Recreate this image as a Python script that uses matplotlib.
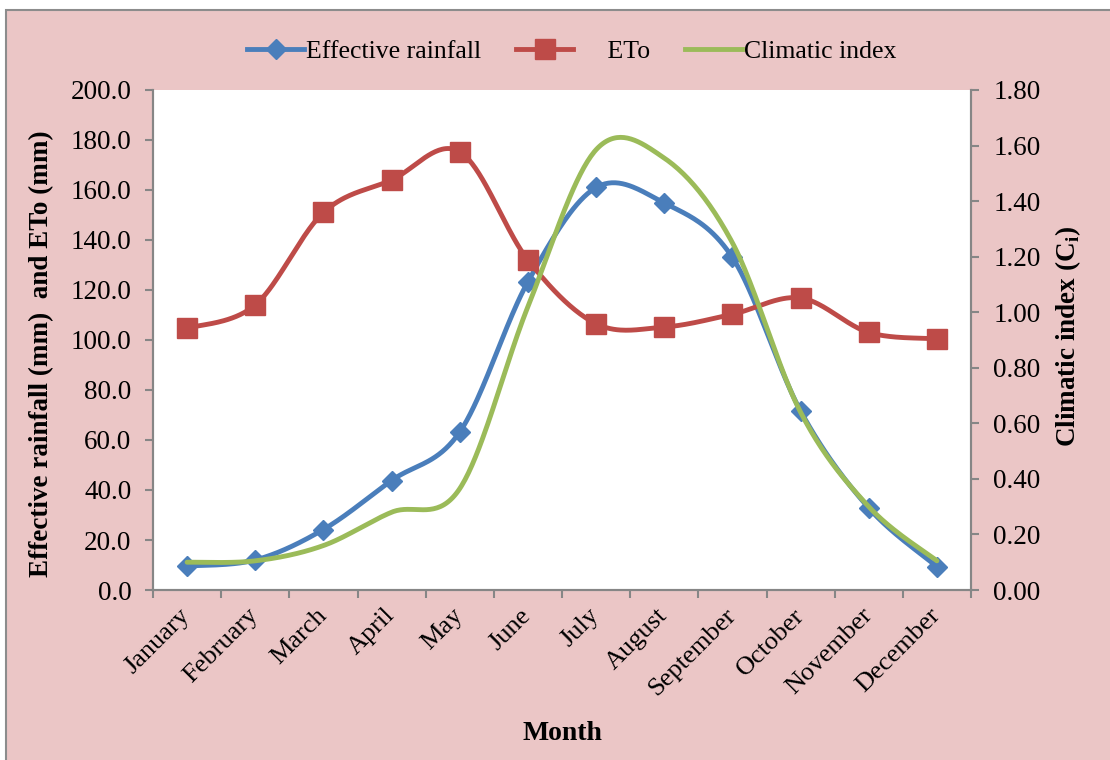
import numpy as np
import matplotlib
matplotlib.use('Agg')
import matplotlib.pyplot as plt
from matplotlib.patches import Rectangle
from matplotlib.lines import Line2D
from matplotlib.ticker import FormatStrFormatter, FixedLocator

plt.rcParams['font.family'] = ['Liberation Serif', 'DejaVu Serif']
plt.rcParams['mathtext.fontset'] = 'custom'
plt.rcParams['mathtext.rm'] = 'Liberation Serif'
plt.rcParams['mathtext.bf'] = 'Liberation Serif:bold'

months = ['January', 'February', 'March', 'April', 'May', 'June', 'July',
          'August', 'September', 'October', 'November', 'December']
eff_rain = [9.6, 12.0, 24.2, 43.8, 63.2, 123.3, 161.0, 154.8, 133.0, 71.6, 32.8, 9.4]
eto = [104.7, 114.0, 151.0, 164.0, 175.3, 132.0, 106.5, 105.2, 110.3, 116.8, 103.0, 100.5]
clim = [0.10, 0.105, 0.16, 0.28, 0.365, 1.02, 1.585, 1.555, 1.25, 0.64, 0.30, 0.105]

left_ticks = np.arange(0, 201, 20)
right_ticks = np.arange(0, 1.81, 0.2)

BLUE = '#4A7EBB'
RED = '#BE4B48'
GREEN = '#9BBB59'
PINK = '#EBC6C6'
GRAY = '#868686'


def smooth(vals, n=40):
    """Excel-style smoothed line (Catmull-Rom Bezier) through the points."""
    y = np.asarray(vals, float)
    x = np.arange(len(y), dtype=float)
    xs, ys = [], []
    t = np.linspace(0, 1, n)
    for i in range(len(y) - 1):
        i0 = max(i - 1, 0)
        i3 = min(i + 2, len(y) - 1)
        for arr, out in ((x, xs), (y, ys)):
            p0, p1, p2, p3 = arr[i0], arr[i], arr[i + 1], arr[i3]
            c1 = p1 + (p2 - p0) / 6.0
            c2 = p2 - (p3 - p1) / 6.0
            seg = ((1 - t) ** 3 * p1 + 3 * (1 - t) ** 2 * t * c1
                   + 3 * (1 - t) * t ** 2 * c2 + t ** 3 * p2)
            out.extend(seg if i == 0 else seg[1:])
    return np.array(xs), np.array(ys)


W, H = 1110, 760
fig = plt.figure(figsize=(W / 100, H / 100), dpi=100)
fig.patch.set_facecolor('white')
bg = Rectangle((6 / W, -0.05), 1.2, 0.05 + (1 - 10 / H), transform=fig.transFigure,
               facecolor=PINK, edgecolor='#8C8C8C', lw=1.5, zorder=-10)
fig.patches.append(bg)

ax = fig.add_axes([153 / W, 1 - 590 / H, 818 / W, 500 / H])
ax.set_facecolor('white')
ax2 = ax.twinx()

x = np.arange(len(months))
sx, sy = smooth(eff_rain)
ax.plot(sx, sy, color=BLUE, lw=3.5, solid_capstyle='round', zorder=3)
ax.plot(x, eff_rain, ls='none', marker='D', ms=10.5, color=BLUE, zorder=4)
sx, sy = smooth(eto)
ax.plot(sx, sy, color=RED, lw=3.5, solid_capstyle='round', zorder=5)
ax.plot(x, eto, ls='none', marker='s', ms=14.5, color=RED, zorder=6)
sx, sy = smooth(clim)
ax2.plot(sx, sy, color=GREEN, lw=3.5, solid_capstyle='round', zorder=3)

ax.set_xlim(-0.5, len(months) - 0.5)
ax.set_ylim(0, 200)
ax2.set_ylim(0, 1.8)

ax.yaxis.set_major_locator(FixedLocator(left_ticks))
ax.yaxis.set_major_formatter(FormatStrFormatter('%.1f'))
ax2.yaxis.set_major_locator(FixedLocator(right_ticks))
ax2.yaxis.set_major_formatter(FormatStrFormatter('%.2f'))

ax.set_xticks(x)
ax.set_xticklabels(months, rotation=45, ha='right', va='center', rotation_mode='anchor')
ax.set_xticks(np.arange(-0.5, len(months), 1.0), minor=True)
ax.tick_params(axis='x', which='major', length=0, pad=16, labelsize=19)
ax.tick_params(axis='x', which='minor', length=6, width=1.5, color=GRAY, direction='out')
ax.tick_params(axis='y', length=6, width=1.5, color=GRAY, direction='out', pad=9.5, labelsize=19.5)
ax2.tick_params(axis='y', length=6, width=1.5, color=GRAY, direction='out', pad=10, labelsize=19.5)

for a in (ax, ax2):
    a.spines['top'].set_visible(False)
    for s in ('left', 'right', 'bottom'):
        a.spines[s].set_color(GRAY)
        a.spines[s].set_linewidth(1.5)

fig.text(42 / W, 1 - 354 / H, 'Effective rainfall (mm)  and ETo (mm)', rotation=90,
         ha='center', va='center', fontsize=19.5, fontweight='bold')
fig.text(1068 / W, 1 - 336 / H, r'Climatic index (C$_\mathbf{i}$)', rotation=90,
         ha='center', va='center', fontsize=19.5, fontweight='bold')
fig.text(562 / W, 1 - 733 / H, 'Month', ha='center', va='center',
         fontsize=20, fontweight='bold')

handles = [
    Line2D([], [], color=BLUE, lw=3.5, marker='D', ms=10.5),
    Line2D([], [], color=RED, lw=3.5, marker='s', ms=14.5),
    Line2D([], [], color=GREEN, lw=3.5),
]
labels = ['Effective rainfall', '     ETo', 'Climatic index']
fig.legend(handles, labels, loc='center', bbox_to_anchor=(572 / W, 1 - 52 / H),
           ncol=3, frameon=False, fontsize=18.5, handlelength=2.2,
           handletextpad=0.1, columnspacing=1.35, numpoints=1)

fig.savefig('out.png', dpi=100)
